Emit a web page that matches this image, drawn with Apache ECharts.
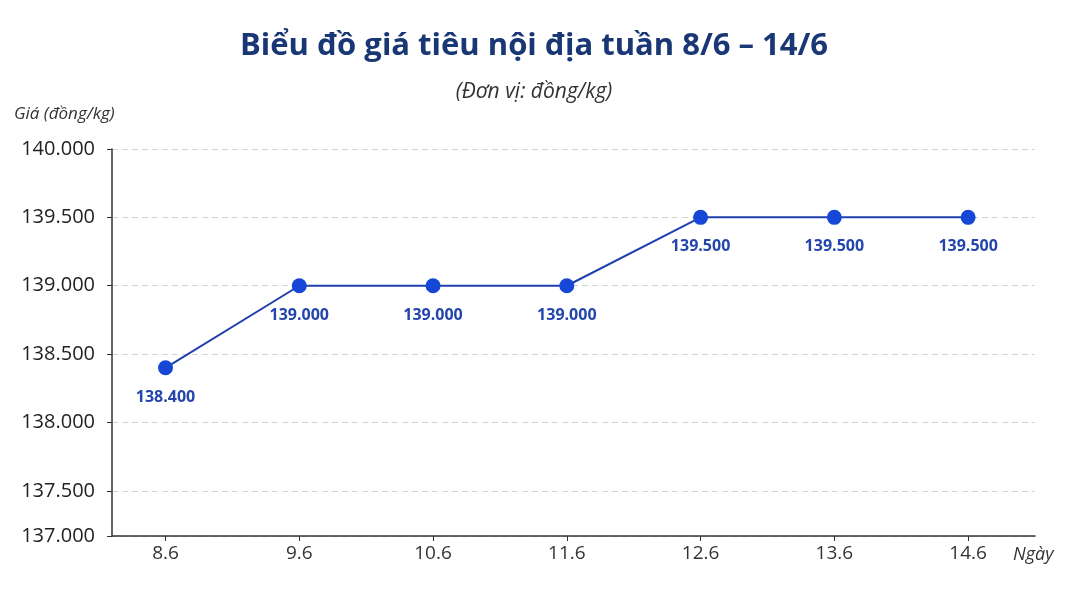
<!DOCTYPE html>
<html>
<head>
<meta charset="utf-8">
<script src="https://cdn.jsdelivr.net/npm/echarts@6/dist/echarts.min.js"></script>
<style>
  html, body { margin: 0; padding: 0; background: #ffffff; }
  #chart { width: 1068px; height: 594px; }
</style>
</head>
<body>
<div id="chart"></div>
<script>
// Dữ liệu
const days = ['8.6', '9.6', '10.6', '11.6', '12.6', '13.6', '14.6'];
const prices = [138400, 139000, 139000, 139000, 139500, 139500, 139500];
// the picture's bottom tick sits higher than a true 137.000 would
const yTickValues = [137170, 137500, 138000, 138500, 139000, 139500, 140000];
const yTickLabels = ['137.000', '137.500', '138.000', '138.500', '139.000', '139.500', '140.000'];

const fmt = v => String(v).replace(/\B(?=(\d{3})+(?!\d))/g, '.');

const chart = echarts.init(document.getElementById('chart'));

const option = {
  backgroundColor: '#ffffff',
  animation: false,
  title: {
    text: 'Biểu đồ giá tiêu nội địa tuần 8/6 – 14/6',
    subtext: '(Đơn vị: đồng/kg)',
    left: 'center',
    top: 26,
    itemGap: 20,
    textStyle: {
      fontFamily: 'Open Sans',
      fontWeight: 'bold',
      fontSize: 31,
      color: '#1a3775'
    },
    subtextStyle: {
      fontFamily: 'Open Sans',
      fontStyle: 'italic',
      fontSize: 21,
      color: '#333333'
    }
  },
  grid: {
    left: 112,
    right: 33,
    top: 149,
    bottom: 58
  },
  xAxis: {
    type: 'value',
    min: -0.4,
    max: 6.5,
    name: 'Ngày',
    nameLocation: 'end',
    nameGap: 0,
    nameTextStyle: {
      fontFamily: 'Open Sans',
      fontStyle: 'italic',
      fontSize: 18,
      color: '#333333',
      align: 'left',
      verticalAlign: 'top',
      padding: [10, 0, 0, -22]
    },
    axisLine: { onZero: false, lineStyle: { color: '#333333', width: 1.5 } },
    axisTick: {
      show: true,
      length: 5,
      customValues: [0, 1, 2, 3, 4, 5, 6],
      lineStyle: { color: '#333333' }
    },
    axisLabel: {
      customValues: [0, 1, 2, 3, 4, 5, 6],
      formatter: v => days[Math.round(v)],
      fontFamily: 'Open Sans',
      fontSize: 19,
      color: '#333333',
      margin: 8
    },
    splitLine: { show: false }
  },
  yAxis: {
    type: 'value',
    min: yTickValues[0],
    max: yTickValues[yTickValues.length - 1],
    name: 'Giá (đồng/kg)',
    nameLocation: 'end',
    nameGap: 26,
    nameTextStyle: {
      fontFamily: 'Open Sans',
      fontStyle: 'italic',
      fontSize: 17,
      color: '#333333',
      align: 'left',
      padding: [0, 0, 0, -98]
    },
    axisLine: { show: true, onZero: false, lineStyle: { color: '#333333', width: 1.5 } },
    axisTick: {
      show: true,
      length: 5,
      customValues: yTickValues,
      lineStyle: { color: '#333333' }
    },
    axisLabel: {
      customValues: yTickValues,
      formatter: v => yTickLabels[yTickValues.indexOf(v)],
      fontFamily: 'Open Sans',
      fontSize: 20,
      color: '#222222',
      margin: 17
    },
    splitLine: {
      show: true,
      lineStyle: { color: '#d4d4d4', type: [6, 4], width: 1 }
    }
  },
  series: [{
    type: 'line',
    data: prices.map((p, i) => [i, p]),
    symbol: 'circle',
    symbolSize: 15,
    itemStyle: { color: '#1747d6' },
    lineStyle: { color: '#2040ad', width: 2 },
    label: {
      show: true,
      position: 'bottom',
      distance: 14,
      formatter: p => fmt(p.value[1]),
      fontFamily: 'Open Sans',
      fontWeight: 'bold',
      fontSize: 16,
      color: '#2345ac'
    }
  }]
};

chart.setOption(option);
</script>
</body>
</html>
